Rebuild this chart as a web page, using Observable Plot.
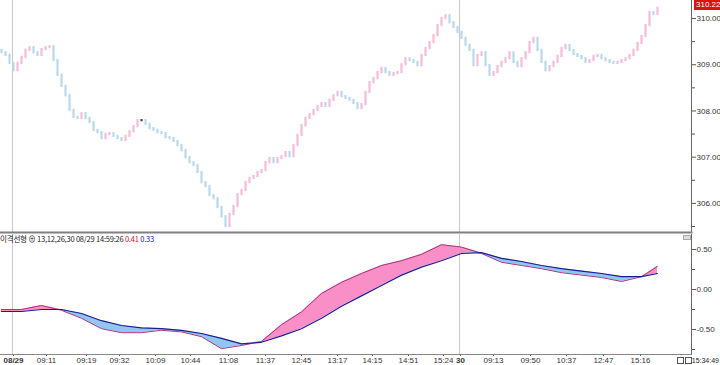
<!DOCTYPE html>
<html><head><meta charset="utf-8">
<script src="https://cdn.jsdelivr.net/npm/d3@7"></script>
<script src="https://cdn.jsdelivr.net/npm/@observablehq/plot@0.6"></script>
<style>
body{margin:0;background:#fff;font-family:"Liberation Sans Narrow","Liberation Sans",Arial,sans-serif;}
#wrap{position:relative;width:720px;height:365px;overflow:hidden;background:#fff}
#topc{position:absolute;left:0;top:0}
#botc{position:absolute;left:0;top:233px}
#last{position:absolute;left:694px;top:0;background:#e01010;color:#fff;font-size:8px;padding:0 2px;line-height:10px;height:10px}
#legend{position:absolute;left:0;top:234px;font-size:7.5px;line-height:9px;color:#222;font-family:"Noto Sans CJK KR","Liberation Sans Narrow",sans-serif;white-space:nowrap;letter-spacing:-0.2px}
#icons{position:absolute;left:677px;top:357px;height:7px}
#icons span{display:inline-block;width:7px;height:7px;border:1px solid #555;margin-right:1px;box-sizing:border-box;vertical-align:top}
#clock{position:absolute;right:1px;top:356px;font-size:7px;line-height:9px;color:#222;white-space:nowrap;font-family:"Liberation Sans Narrow","Liberation Sans",sans-serif}
#corner{position:absolute;left:683px;top:235px;width:8px;height:5px;background:#ddd;border:1px solid #aaa;box-sizing:border-box}
svg{overflow:visible}
</style></head>
<body><div id="wrap">
<div id="topc"></div><div id="botc"></div>
<div id="last"></div>
<div id="legend"></div>
<div id="corner"></div>
<div id="icons"><span></span><span></span></div>
<div id="clock">15:34:49</div>
</div>
<script>
// ---------------- data ----------------
const firstOpen = 309.31;
const closes = [
309.26,309.20,309.03,308.87,309.03,309.16,309.31,309.37,309.26,309.20,
309.33,309.37,309.39,309.09,308.77,308.53,308.33,308.01,307.86,307.84,
307.94,307.84,307.75,307.58,307.53,307.40,307.49,307.51,307.45,307.40,
307.36,307.45,307.55,307.66,307.79,307.79,307.71,307.62,307.58,307.53,
307.51,307.42,307.40,307.34,307.25,307.14,306.99,306.88,306.82,306.67,
306.45,306.36,306.17,306.10,305.91,305.71,305.50,305.76,305.93,306.19,
306.28,306.45,306.54,306.58,306.67,306.71,306.88,306.97,306.88,306.97,
307.01,307.10,307.01,307.25,307.47,307.68,307.84,307.92,308.01,308.10,
308.16,308.10,308.23,308.33,308.40,308.31,308.27,308.23,308.16,308.05,
308.14,308.40,308.61,308.70,308.83,308.92,308.83,308.77,308.81,308.83,
309.00,309.13,309.09,309.05,308.98,309.20,309.35,309.48,309.63,309.85,
310.00,310.06,309.91,309.81,309.70,309.57,309.42,309.31,308.98,309.20,
309.26,308.98,308.77,308.83,308.96,309.05,309.13,309.26,309.05,308.96,
309.13,309.26,309.48,309.57,309.31,309.05,308.87,308.96,309.05,309.18,
309.35,309.42,309.31,309.22,309.18,309.13,309.05,309.09,309.18,309.20,
309.13,309.09,309.05,309.03,309.05,309.09,309.13,309.20,309.31,309.46,
309.61,309.85,310.13,310.09,310.22
];
const tickIdx    = [3, 11.25, 21.25, 29.5, 38.5, 47.25, 56.75, 66, 75, 84, 92.75, 101.75, 110.5, 114.75, 123, 132.25, 141.25, 150.5, 159.75];
const tickLabels = ["08/29","09:11","09:19","09:32","10:09","10:44","11:08","11:37","12:45","13:17","14:15","14:51","15:24","30","09:13","09:50","10:37","12:47","15:16"];
const boldLabels = ["08/29","30"];
const dayBreaks  = [2.75, 114.5];
const indIdx     = [0,5,10,15,20,25,30,35,40,45,50,55,60,65,70,75,80,85,90,95,100,105,110,115,120,125,130,135,140,145,150,155,160,164];
const macdVals   = [-0.25,-0.25,-0.20,-0.26,-0.36,-0.49,-0.54,-0.54,-0.51,-0.53,-0.59,-0.74,-0.70,-0.65,-0.44,-0.28,-0.05,0.09,0.20,0.30,0.36,0.44,0.56,0.53,0.45,0.34,0.30,0.26,0.21,0.18,0.15,0.10,0.16,0.29];
const signalVals = [-0.275,-0.275,-0.25,-0.25,-0.30,-0.39,-0.45,-0.48,-0.49,-0.51,-0.55,-0.61,-0.68,-0.66,-0.58,-0.49,-0.36,-0.21,-0.08,0.05,0.18,0.28,0.36,0.45,0.46,0.39,0.35,0.30,0.26,0.23,0.20,0.16,0.16,0.20];
const priceTicks = [306,307,308,309,310];
const priceMinor = [305.5,306.5,307.5,308.5,309.5];
const oscTicks   = [-0.5,0,0.5];
const oscMinor   = [-0.75,-0.25,0.25];
const legendParts = [["이격선형 ⊕ 13,12,26,30 08/29 14:59:26 ","#222"],["0.41","#e01010"],[" 0.33","#2020c0"]];

// ---------------- build ----------------
const UP = "#f5bcdb", DOWN = "#b7d9ef", DOJI = "#444";
const candles = closes.map((c, i) => {
  const o = i ? closes[i - 1] : firstOpen;
  return {i, open: o, close: c, col: Math.abs(c - o) < 0.005 ? DOJI : (c > o ? UP : DOWN)};
});
const ind = indIdx.map((i, k) => ({i, macd: macdVals[k], sig: signalVals[k]}));
const xDomain = [-0.25, 172.5];
const labelOf = new Map(tickIdx.map((t, k) => [t, tickLabels[k]]));
const normalTicks = tickIdx.filter(t => !boldLabels.includes(labelOf.get(t)));
const boldTicks = tickIdx.filter(t => boldLabels.includes(labelOf.get(t)));
const FONT = "Liberation Sans Narrow, Liberation Sans, Arial, sans-serif";

const pricePlot = Plot.plot({
  width: 720, height: 233,
  marginLeft: 0, marginRight: 29, marginTop: 0, marginBottom: 1,
  style: {fontFamily: FONT, fontSize: "8px", color: "#333", background: "transparent"},
  x: {domain: xDomain, axis: null, label: null},
  y: {domain: [305.37, 310.39], axis: null, label: null},
  marks: [
    Plot.ruleX(dayBreaks, {x: d => d, stroke: "#c8c8c8"}),
    Plot.ruleX(candles, {x: "i", y1: "open", y2: "close", stroke: "col", strokeWidth: 2.2, strokeLinecap: "square"}),
    Plot.axisY(priceTicks, {anchor: "right", label: null, tickSize: 4, tickPadding: 1, tickFormat: d => d.toFixed(2), fontSize: 8, stroke: "#555"}),
    Plot.axisY(priceMinor, {anchor: "right", label: null, tickSize: 3, tickFormat: () => "", stroke: "#555"}),
    Plot.frame({anchor: "right", stroke: "#666"}),
    Plot.frame({anchor: "bottom", stroke: "#808080", strokeWidth: 2})
  ]
});
document.getElementById("topc").append(pricePlot);

const oscPlot = Plot.plot({
  width: 720, height: 132,
  marginLeft: 0, marginRight: 29, marginTop: 1, marginBottom: 11,
  style: {fontFamily: FONT, fontSize: "8px", color: "#333", background: "transparent"},
  x: {domain: xDomain, label: null},
  y: {domain: [-0.8125, 0.6875], label: null},
  marks: [
    Plot.ruleX(dayBreaks, {x: d => d, stroke: "#c8c8c8"}),
    Plot.areaY(ind, {x: "i", y1: "sig", y2: d => Math.max(d.macd, d.sig), fill: "#f98fc6"}),
    Plot.areaY(ind, {x: "i", y1: d => Math.min(d.macd, d.sig), y2: "sig", fill: "#92c6f2"}),
    Plot.lineY(ind, {x: "i", y: "macd", stroke: "#a8357e", strokeWidth: 1}),
    Plot.lineY(ind, {x: "i", y: "sig", stroke: "#1c1c96", strokeWidth: 1.2}),
    Plot.axisY(oscTicks, {anchor: "right", label: null, tickSize: 4, tickPadding: 1, tickFormat: d => d.toFixed(2), fontSize: 8, stroke: "#555"}),
    Plot.axisY(oscMinor, {anchor: "right", label: null, tickSize: 3, tickFormat: () => "", stroke: "#555"}),
    Plot.axisX(normalTicks, {anchor: "bottom", label: null, tickSize: 2, tickPadding: 1, tickFormat: d => labelOf.get(d), fontSize: 8, stroke: "#555"}),
    Plot.axisX(boldTicks, {anchor: "bottom", label: null, tickSize: 2, tickPadding: 1, tickFormat: d => labelOf.get(d), fontSize: 8, fontWeight: "bold", stroke: "#555"}),
    Plot.frame({anchor: "right", stroke: "#666"}),
    Plot.frame({anchor: "bottom", stroke: "#888"})
  ]
});
document.getElementById("botc").append(oscPlot);

document.getElementById("last").textContent = closes[closes.length - 1].toFixed(2);
const lg = document.getElementById("legend");
for (const [t, c] of legendParts) { const s = document.createElement("span"); s.textContent = t; s.style.color = c; lg.append(s); }
</script>
</body></html>
